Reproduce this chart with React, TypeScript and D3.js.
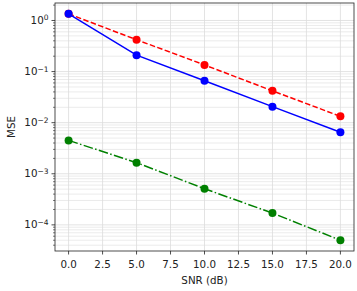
import React from "react";
import * as d3 from "d3";

const snr = [0, 5, 10, 15, 20];
const mseRed = [1.35, 0.42, 0.135, 0.042, 0.0133];
const mseBlue = [1.35, 0.21, 0.066, 0.0206, 0.0065];
const mseGreen = [0.0045, 0.00165, 0.00051, 0.00017, 0.00005];
const xTicks = [0, 2.5, 5, 7.5, 10, 12.5, 15, 17.5, 20];
const yMajor = [-4, -3, -2, -1, 0];

const W = 357, H = 291;
const L = 55, R = 354, T = 3, B = 251;

export default function App() {
  const x = d3.scaleLinear().domain([-1, 21]).range([L, R]);
  const y = d3.scaleLog().domain([3.08e-5, 2.2]).range([B, T]);
  const minor: number[] = [];
  for (let e = -5; e <= 0; e++) for (let m = 2; m <= 9; m++) {
    const v = m * Math.pow(10, e);
    if (v >= 3.08e-5 && v <= 2.2) minor.push(v);
  }
  const line = d3.line<number>().x((_, i) => x(snr[i])).y((d) => y(d));
  const series = [
    { data: mseRed, color: "#ff0000", dash: "5.5,2.4" },
    { data: mseBlue, color: "#0000ff", dash: "" },
    { data: mseGreen, color: "#008000", dash: "9.6,2.4,1.5,2.4" },
  ];
  const font = "DejaVu Sans, sans-serif";
  return (
    <svg width={W} height={H} style={{ position: "absolute", left: 0, top: 0 }} fontFamily={font}>
      <rect width={W} height={H} fill="white" />
      {minor.map((v, i) => (
        <line key={"m" + i} x1={L} x2={R} y1={y(v)} y2={y(v)} stroke="#e6e6e6" strokeWidth={0.8} />
      ))}
      {yMajor.map((e) => (
        <line key={"M" + e} x1={L} x2={R} y1={y(Math.pow(10, e))} y2={y(Math.pow(10, e))} stroke="#dcdcdc" strokeWidth={0.8} />
      ))}
      {xTicks.map((t) => (
        <line key={"v" + t} x1={x(t)} x2={x(t)} y1={T} y2={B} stroke="#dcdcdc" strokeWidth={0.8} />
      ))}
      {series.map((s, k) => (
        <g key={k}>
          <path d={line(s.data) || ""} fill="none" stroke={s.color} strokeWidth={1.5} strokeDasharray={s.dash || undefined} />
          {s.data.map((d, i) => (
            <circle key={i} cx={x(snr[i])} cy={y(d)} r={4} fill={s.color} />
          ))}
        </g>
      ))}
      <rect x={L} y={T} width={R - L} height={B - T} fill="none" stroke="#222" strokeWidth={0.8} />
      {xTicks.map((t) => (
        <g key={"xt" + t}>
          <line x1={x(t)} x2={x(t)} y1={B} y2={B + 3.5} stroke="#222" strokeWidth={0.8} />
          <text x={x(t)} y={B + 17} fontSize={10.3} textAnchor="middle" fill="#222">{t.toFixed(1)}</text>
        </g>
      ))}
      {minor.map((v, i) => (
        <line key={"mt" + i} x1={L - 2} x2={L} y1={y(v)} y2={y(v)} stroke="#222" strokeWidth={0.6} />
      ))}
      {yMajor.map((e) => (
        <g key={"yt" + e}>
          <line x1={L - 3.5} x2={L} y1={y(Math.pow(10, e))} y2={y(Math.pow(10, e))} stroke="#222" strokeWidth={0.8} />
          <text x={L - 6.5} y={y(Math.pow(10, e)) + 3.5} fontSize={10.3} textAnchor="end" fill="#222">
            10<tspan fontSize={7.5} dy={-3.5}>{e < 0 ? "\u2212" + -e : String(e)}</tspan>
          </text>
        </g>
      ))}
      <text x={(L + R) / 2} y={284} fontSize={10.3} textAnchor="middle" fill="#222">SNR (dB)</text>
      <text transform={`translate(14.5,${(T + B) / 2}) rotate(-90)`} fontSize={10.3} textAnchor="middle" fill="#222">MSE</text>
    </svg>
  );
}
